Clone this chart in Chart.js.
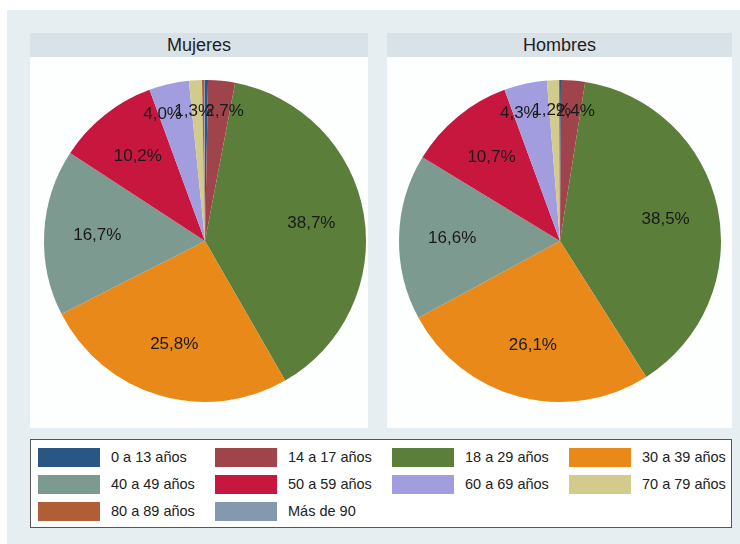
<!DOCTYPE html>
<html>
<head>
<meta charset="utf-8">
<script src="https://cdn.jsdelivr.net/npm/chart.js@4/dist/chart.umd.min.js"></script>
<style>
    body { margin: 0; background: #fff; font-family: 'Liberation Sans', Arial, sans-serif; color: #222; }
    #page { position: relative; width: 740px; height: 544px; overflow: hidden; }
    .outer { position: absolute; left: 7px; top: 10px; width: 733px; height: 534px; background: #e7eef1; }
    .head { position: absolute; top: 33px; height: 24px; line-height: 24px; background: #d8e2e7;
        text-align: center; font-size: 18px; color: #1e1e1e; }
    .plot { position: absolute; top: 57px; height: 371px; background: #fdfefe; }
    .plot canvas { display: block; }
    #legend { position: absolute; left: 30px; top: 439px; width: 700px; height: 87px;
        background: #fff; border: 1px solid #555; }
    .item { position: absolute; height: 19px; font-size: 14.5px; line-height: 19px; white-space: nowrap; }
    .sw { position: absolute; left: 0; top: 0; width: 62px; height: 19px; }
    .lbl { position: absolute; left: 73px; top: 0; }
</style>
</head>
<body>
<div id="page">
    <div class="outer"></div>
    <div class="head" style="left:30px;width:338px">Mujeres</div>
    <div class="plot" style="left:30px;width:338px"><canvas id="chartMujeres" width="338" height="371"></canvas></div>
    <div class="head" style="left:387px;width:345px">Hombres</div>
    <div class="plot" style="left:387px;width:345px"><canvas id="chartHombres" width="345" height="371"></canvas></div>
    <div id="legend"></div>
</div>
<script>
const ageGroups = [
    '0 a 13 años', '14 a 17 años', '18 a 29 años', '30 a 39 años', '40 a 49 años',
    '50 a 59 años', '60 a 69 años', '70 a 79 años', '80 a 89 años', 'Más de 90',
];
const groupColors = [
    '#285786', '#a0444c', '#5b7e3a', '#e8891a', '#7c9a90',
    '#c8173f', '#a19ddf', '#d3cb8c', '#b05e38', '#8499b0',
];
// percentages (smallest slices estimated)
const mujeres = [0.3, 2.7, 38.7, 25.8, 16.7, 10.2, 4.0, 1.3, 0.2, 0.1];
const hombres = [0.1, 2.4, 38.5, 26.1, 16.6, 10.7, 4.3, 1.2, 0.1, 0.0];

const sliceLabels = {
    id: 'sliceLabels',
    afterDatasetsDraw(chart) {
        const { ctx } = chart;
        const meta = chart.getDatasetMeta(0);
        const values = chart.data.datasets[0].data;
        ctx.save();
        ctx.font = '17px "Liberation Sans", Arial, sans-serif';
        ctx.fillStyle = '#1a1a1a';
        ctx.textAlign = 'center';
        ctx.textBaseline = 'middle';
        meta.data.forEach((arc, i) => {
            const v = values[i];
            if (v < 1) {
                return;
            }
            const { x, y, startAngle, endAngle, outerRadius } = arc.getProps(
                ['x', 'y', 'startAngle', 'endAngle', 'outerRadius'], true);
            const mid = (startAngle + endAngle) / 2;
            const small = v < 5;
            const r = outerRadius * (small ? 0.81 : 0.67);
            // thin slices: labels spread sideways a bit, like the original
            const spread = small ? 1.45 : 1;
            const text = v.toFixed(1).replace('.', ',') + '%';
            ctx.fillText(text, x + Math.cos(mid) * r * spread, y + Math.sin(mid) * r);
        });
        ctx.restore();
    },
};

function pieChart(id, values, padding) {
    return new Chart(document.getElementById(id), {
        type: 'pie',
        data: {
            labels: ageGroups,
            datasets: [{
                data: values,
                backgroundColor: groupColors,
                borderWidth: 0,
            }],
        },
        options: {
            responsive: false,
            animation: false,
            layout: { padding },
            plugins: {
                legend: { display: false },
                tooltip: { enabled: false },
            },
        },
        plugins: [sliceLabels],
    });
}

pieChart('chartMujeres', mujeres, { left: 14, right: 2, top: 23, bottom: 26 });
pieChart('chartHombres', hombres, { left: 12, right: 11, top: 23, bottom: 26 });

// shared legend, four columns
const legend = document.getElementById('legend');
ageGroups.forEach((name, i) => {
    const item = document.createElement('div');
    item.className = 'item';
    item.style.left = (7 + (i % 4) * 177) + 'px';
    item.style.top = (8 + Math.floor(i / 4) * 27) + 'px';
    item.innerHTML = '<span class="sw" style="background:' + groupColors[i] + '"></span>'
        + '<span class="lbl">' + name + '</span>';
    legend.appendChild(item);
});
</script>
</body>
</html>
